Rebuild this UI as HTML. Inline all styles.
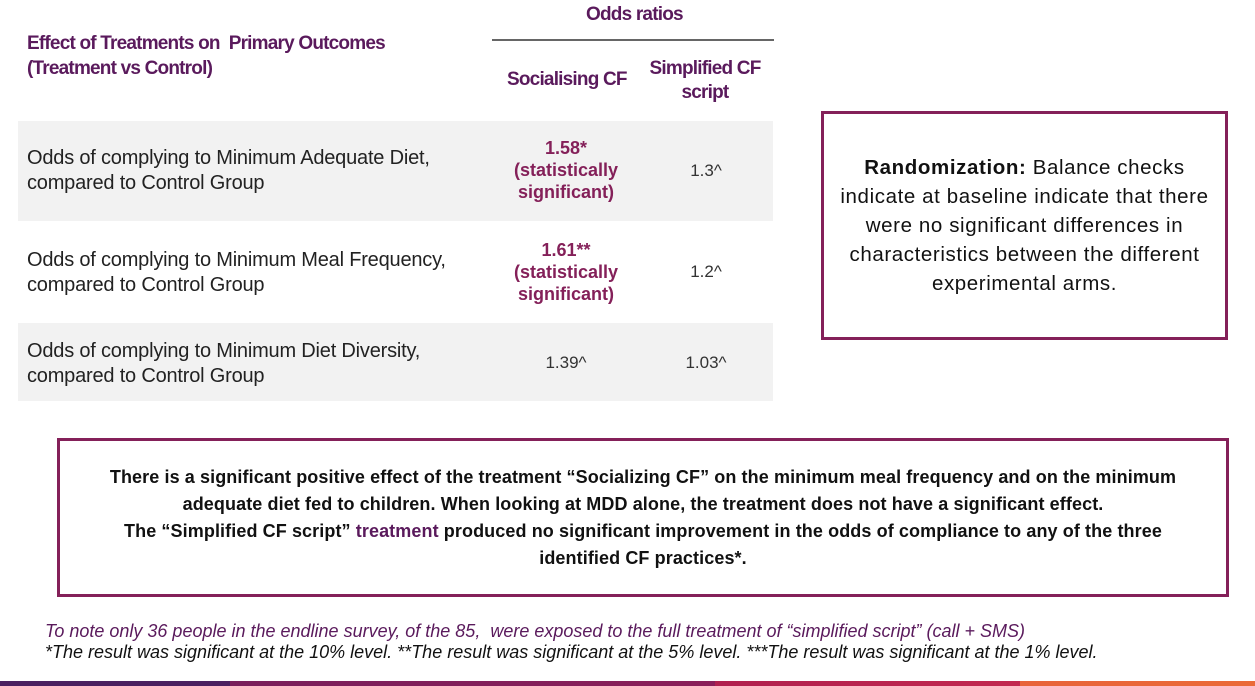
<!DOCTYPE html>
<html><head><meta charset="utf-8"><style>
body{margin:0;width:1255px;height:686px;position:relative;background:#fff;font-family:"Liberation Sans",sans-serif;overflow:hidden}
.a{position:absolute}
.hd{color:#5a1a5c;font-weight:bold;font-size:19px;letter-spacing:-0.8px;transform-origin:left top}
.row{position:absolute;left:18px;width:755px}
.lbl{position:absolute;left:9px;font-size:20px;line-height:25px;color:#222;letter-spacing:-0.2px}
.c1{position:absolute;left:473px;width:150px;text-align:center;font-size:18px;line-height:22px;color:#842059;font-weight:bold}
.c2{position:absolute;left:623px;width:130px;text-align:center;font-size:17px;color:#333}
</style></head><body>
<div class="a hd" style="left:27px;top:31px;line-height:25px">Effect of Treatments on&nbsp; Primary Outcomes<br>(Treatment vs Control)</div>
<div class="a hd" style="left:586px;top:4px">Odds ratios</div>
<div class="a" style="left:492px;top:39px;width:282px;height:2px;background:#666"></div>
<div class="a hd" style="left:507px;top:69px">Socialising CF</div>
<div class="a hd" style="left:640px;top:57px;width:130px;text-align:center;line-height:24px">Simplified CF<br>script</div>

<div class="row" style="top:121px;height:100px;background:#f2f2f2">
<div class="lbl" style="top:25px">Odds of complying to Minimum Adequate Diet,<br>compared to Control Group</div>
<div class="c1" style="top:16px">1.58*<br>(statistically<br>significant)</div>
<div class="c2" style="top:40px">1.3^</div></div>
<div class="row" style="top:222px;height:100px;background:#fff">
<div class="lbl" style="top:26px">Odds of complying to Minimum Meal Frequency,<br>compared to Control Group</div>
<div class="c1" style="top:17px">1.61**<br>(statistically<br>significant)</div>
<div class="c2" style="top:40px">1.2^</div></div>
<div class="row" style="top:323px;height:78px;background:#f2f2f2">
<div class="lbl" style="top:16px">Odds of complying to Minimum Diet Diversity,<br>compared to Control Group</div>
<div class="c2" style="left:473px;width:150px;top:30px">1.39^</div>
<div class="c2" style="top:30px">1.03^</div></div>

<div class="a" style="left:821px;top:111px;width:401px;height:223px;border:3px solid #842059;display:flex;align-items:center;justify-content:center;text-align:center;font-size:20.5px;line-height:29px;color:#111">
<div style="width:372px;letter-spacing:0.6px"><b>Randomization:</b> Balance checks indicate at baseline indicate that there were no significant differences in characteristics between the different experimental arms.</div></div>

<div class="a" style="left:57px;top:438px;width:1166px;height:153px;border:3px solid #842059;display:flex;align-items:center;justify-content:center;text-align:center;font-size:18px;line-height:27px;font-weight:bold;color:#111">
<div style="width:1120px;letter-spacing:0.1px">There is a significant positive effect of the treatment “Socializing CF” on the minimum meal frequency and on the minimum adequate diet fed to children. When looking at MDD alone, the treatment does not have a significant effect.<br>The “Simplified CF script” <span style="color:#5a1a5c">treatment</span> produced no significant improvement in the odds of compliance to any of the three identified&nbsp;CF&nbsp;practices*.</div></div>

<div class="a" style="left:45px;top:621px;font-size:18px;font-style:italic;color:#5a1a5c;letter-spacing:0px">To note only 36 people in the endline survey, of the 85,&nbsp; were exposed to the full treatment of “simplified script” (call + SMS)</div>
<div class="a" style="left:45px;top:642px;font-size:18px;font-style:italic;color:#111;letter-spacing:0px">*The result was significant at the 10% level. **The result was significant at the 5% level. ***The result was significant at the 1% level.</div>

<div class="a" style="left:0;top:681px;width:1255px;height:5px;background:linear-gradient(90deg,#4a2060 0,#4a2060 230px,#7a1f5c 230px,#8a1f5a 715px,#b0204f 715px,#c22850 1020px,#e8643a 1020px,#ea6a38 1255px)"></div>
</body></html>
